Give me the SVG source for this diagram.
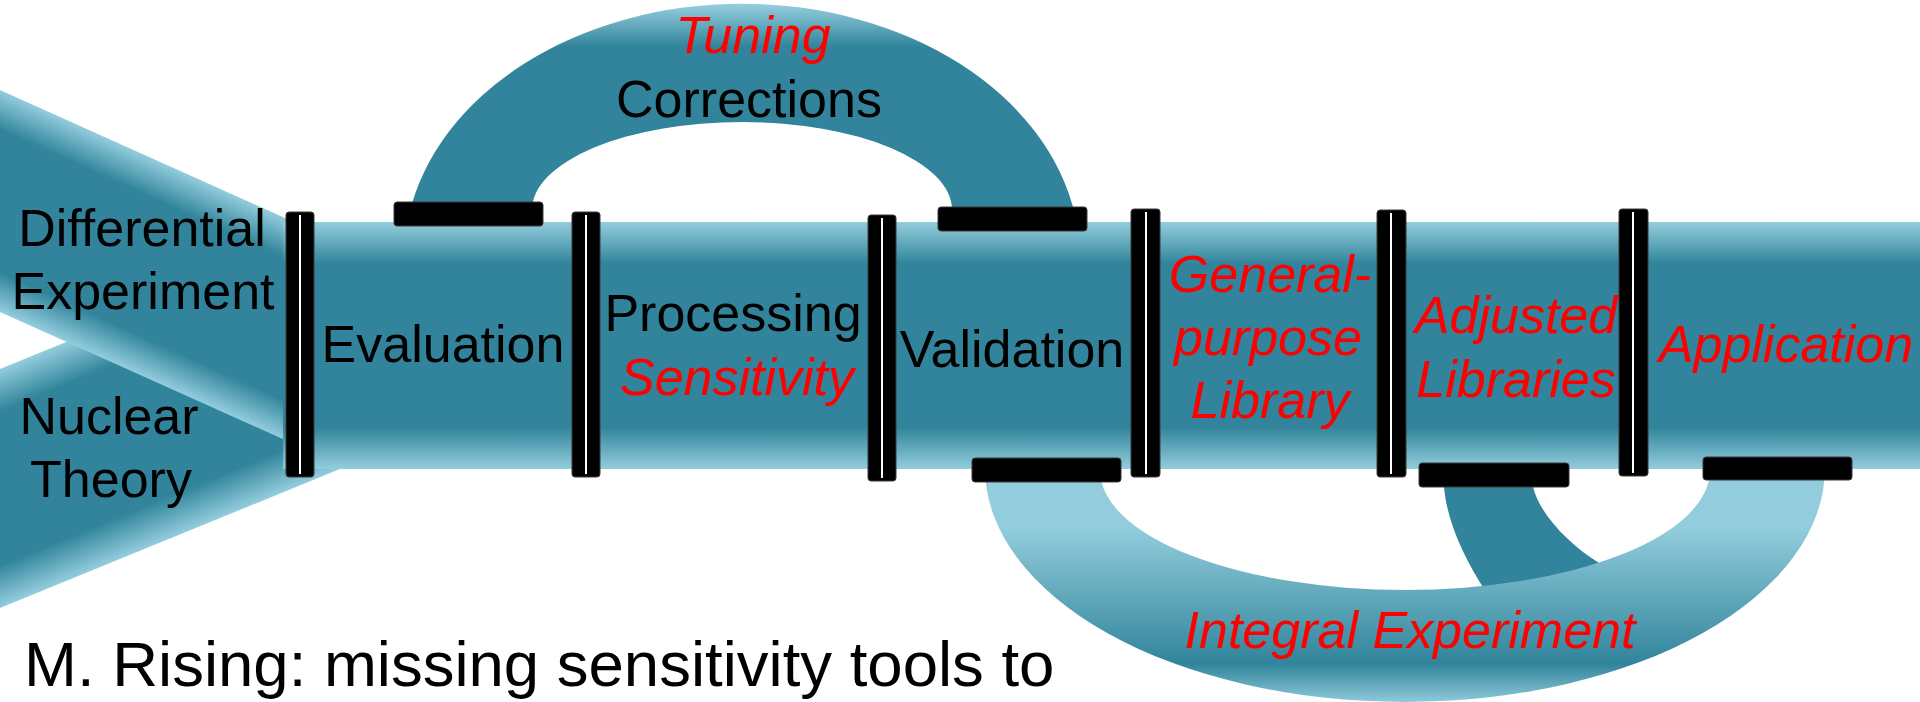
<svg xmlns="http://www.w3.org/2000/svg" width="1920" height="702" viewBox="0 0 1920 702">
<defs>
  <linearGradient id="gPipe" gradientUnits="userSpaceOnUse" x1="0" y1="222" x2="0" y2="469">
    <stop offset="0" stop-color="#93CDDD"/>
    <stop offset="0.17" stop-color="#31849B"/>
    <stop offset="0.83" stop-color="#31849B"/>
    <stop offset="1" stop-color="#93CDDD"/>
  </linearGradient>
  <linearGradient id="gUpper" gradientUnits="userSpaceOnUse" x1="0" y1="90" x2="-83" y2="274.7">
    <stop offset="0" stop-color="#93CDDD"/>
    <stop offset="0.18" stop-color="#31849B"/>
    <stop offset="0.82" stop-color="#31849B"/>
    <stop offset="1" stop-color="#93CDDD"/>
  </linearGradient>
  <linearGradient id="gLower" gradientUnits="userSpaceOnUse" x1="0" y1="369" x2="83.7" y2="573.7">
    <stop offset="0" stop-color="#93CDDD"/>
    <stop offset="0.18" stop-color="#31849B"/>
    <stop offset="0.82" stop-color="#31849B"/>
    <stop offset="1" stop-color="#93CDDD"/>
  </linearGradient>
  <linearGradient id="gTop" gradientUnits="userSpaceOnUse" x1="0" y1="5" x2="0" y2="215">
    <stop offset="0" stop-color="#93CDDD"/>
    <stop offset="0.2" stop-color="#31849B"/>
    <stop offset="1" stop-color="#31849B"/>
  </linearGradient>
  <linearGradient id="gBottom" gradientUnits="userSpaceOnUse" x1="0" y1="468" x2="0" y2="704">
    <stop offset="0" stop-color="#93CDDD"/>
    <stop offset="0.25" stop-color="#93CDDD"/>
    <stop offset="0.83" stop-color="#31849B"/>
    <stop offset="1" stop-color="#93CDDD"/>
  </linearGradient>
</defs>
<style>
  .bar{fill:#000;stroke:#3a3a3a;stroke-width:1}
  .slit{fill:#fff}
  .lbl{font-family:"Liberation Sans",Arial,sans-serif;font-size:52px;fill:#000}
  .red{fill:#f00;font-style:italic}
  .mid{text-anchor:middle}
</style>
<rect width="1920" height="702" fill="#fff"/>

<g id="connectors">
  <polygon id="flow-theory" points="0,369 340,230 340,469 0,608" fill="url(#gLower)"/>
  <polygon id="flow-experiment" points="0,90 300,224.7 300,446.7 0,312" fill="url(#gUpper)"/>
  <path id="flow-adjusted" d="M1444,480 L1444,487 C1447,520 1462,555 1486,592 L1495,615 L1625,580 L1599,563 C1570,545 1540,515 1533,487 L1533,480 Z" fill="#31849B"/>
  <path id="flow-integral" d="M985,468 A420 234 0 0 0 1825,468 L1710,470 A305 120 0 0 1 1100,470 Z" fill="url(#gBottom)"/>
  <path id="flow-tuning" d="M409,215 A338 255 0 0 1 1075,215 L952,210 A210 88 0 0 0 532,210 Z" fill="url(#gTop)"/>
  <rect id="pipe" x="283" y="222" width="1637" height="247" fill="url(#gPipe)"/>
  <rect class="bar" x="394" y="202" width="149" height="24" rx="3"/>
  <rect class="bar" x="938" y="207" width="149" height="24" rx="3"/>
  <rect class="bar" x="972" y="458" width="149" height="24" rx="3"/>
  <rect class="bar" x="1419" y="463" width="150" height="24" rx="3"/>
  <rect class="bar" x="1703" y="457" width="149" height="23" rx="3"/>
</g>

<g id="node-differential-experiment">
  <text class="lbl mid" x="142" y="246">Differential</text>
  <text class="lbl mid" x="143" y="309">Experiment</text>
</g>
<g id="node-nuclear-theory">
  <text class="lbl mid" x="109" y="434">Nuclear</text>
  <text class="lbl mid" x="111" y="497">Theory</text>
</g>
<g id="node-evaluation">
  <rect class="bar" x="286" y="212" width="28" height="265" rx="3"/>
  <rect class="slit" x="299" y="215" width="2" height="259"/>
  <text class="lbl mid" x="443" y="362">Evaluation</text>
</g>
<g id="node-processing">
  <rect class="bar" x="572" y="212" width="28" height="265" rx="3"/>
  <rect class="slit" x="585" y="215" width="2" height="259"/>
  <text class="lbl mid" x="733" y="331">Processing</text>
  <text class="lbl red mid" x="737" y="395">Sensitivity</text>
</g>
<g id="node-validation">
  <rect class="bar" x="868" y="215" width="28" height="266" rx="3"/>
  <rect class="slit" x="881" y="218" width="2" height="260"/>
  <text class="lbl mid" x="1012" y="367">Validation</text>
</g>
<g id="node-general-purpose-library">
  <rect class="bar" x="1131" y="209" width="29" height="268" rx="3"/>
  <rect class="slit" x="1145" y="212" width="2" height="262"/>
  <text class="lbl red mid" x="1270" y="292">General-</text>
  <text class="lbl red mid" x="1268" y="355">purpose</text>
  <text class="lbl red mid" x="1270" y="418">Library</text>
</g>
<g id="node-adjusted-libraries">
  <rect class="bar" x="1377" y="210" width="29" height="267" rx="3"/>
  <rect class="slit" x="1390" y="213" width="2" height="261"/>
  <text class="lbl red mid" x="1516" y="333">Adjusted</text>
  <text class="lbl red mid" x="1516" y="397">Libraries</text>
</g>
<g id="node-application">
  <rect class="bar" x="1619" y="209" width="29" height="267" rx="3"/>
  <rect class="slit" x="1632" y="212" width="2" height="261"/>
  <text class="lbl red mid" x="1786" y="362">Application</text>
</g>
<g id="node-tuning-corrections">
  <text class="lbl red mid" x="753" y="53">Tuning</text>
  <text class="lbl mid" x="749" y="117">Corrections</text>
</g>
<g id="node-integral-experiment">
  <text class="lbl red mid" x="1410" y="648">Integral Experiment</text>
</g>
<text class="lbl" x="24" y="686" style="font-size:63.5px">M. Rising: missing sensitivity tools to</text>
</svg>
